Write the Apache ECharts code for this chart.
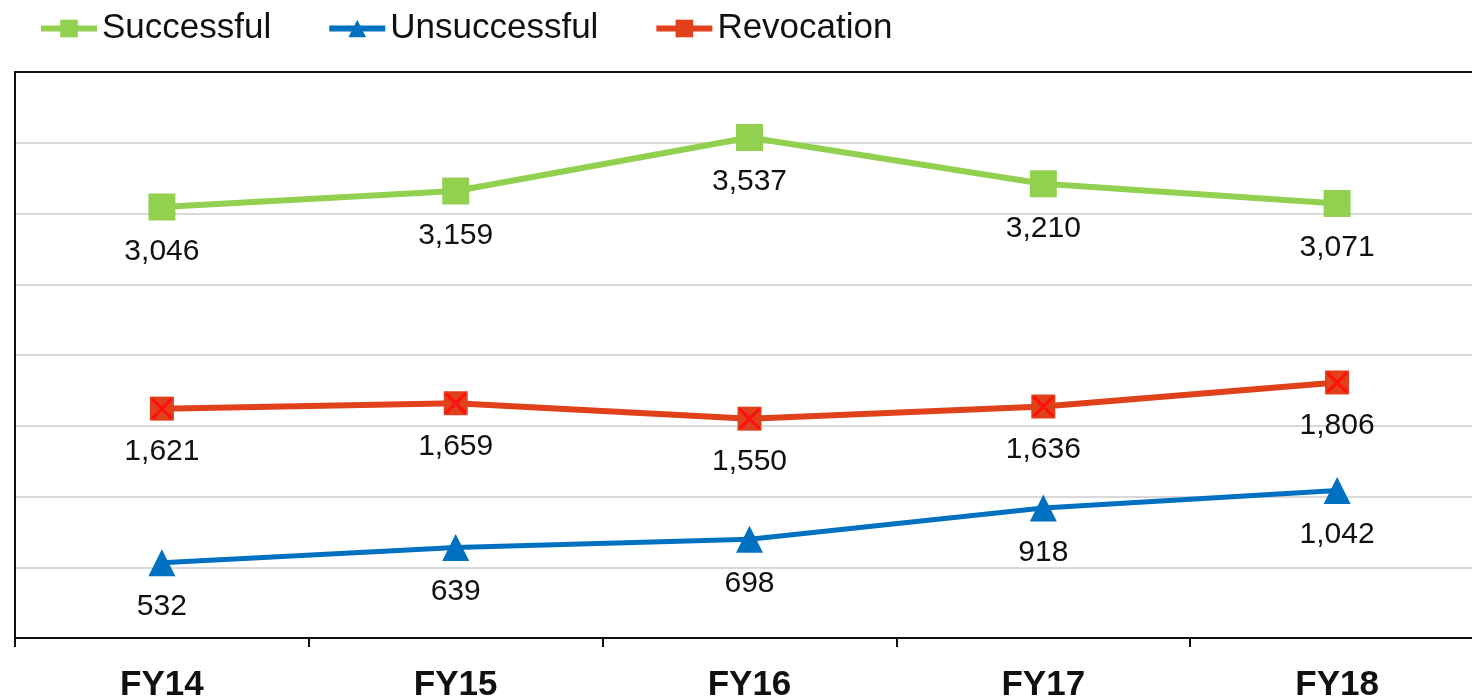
<!DOCTYPE html>
<html>
<head>
<meta charset="utf-8">
<script src="https://cdn.jsdelivr.net/npm/echarts@6/dist/echarts.min.js"></script>
<style>
  html, body { margin: 0; padding: 0; background: #fff; }
  #chart { width: 1472px; height: 700px; }
</style>
</head>
<body>
<div id="chart"></div>
<script>
// data
const years = ['FY14', 'FY15', 'FY16', 'FY17', 'FY18']
const successful = [3046, 3159, 3537, 3210, 3071]
const unsuccessful = [532, 639, 698, 918, 1042]
const revocation = [1621, 1659, 1550, 1636, 1806]

const font = 'Liberation Sans, Arial, sans-serif'
const fmt = p => p.value.toLocaleString('en-US')

// X shape drawn over the revocation squares
const crossPath = 'path://M0,1 L1,0 L5,4 L9,0 L10,1 L6,5 L10,9 L9,10 L5,6 L1,10 L0,9 L4,5 Z'

const chart = echarts.init(document.getElementById('chart'))

const labelStyle = {
  show: true,
  position: 'bottom',
  distance: 16,
  formatter: fmt,
  color: '#111',
  fontSize: 30,
  fontFamily: font
}

chart.setOption({
  animation: false,
  legend: {
    data: ['Successful', 'Unsuccessful', 'Revocation'],
    left: 33,
    top: 6,
    itemWidth: 56,
    itemHeight: 22,
    itemGap: 55,
    lineStyle: { width: 6 },
    textStyle: { fontSize: 35, color: '#111', fontFamily: font }
  },
  grid: {
    left: 15,
    width: 1469,
    top: 72,
    bottom: 62,
    outerBoundsMode: 'none',
    containLabel: false
  },
  xAxis: [
    {
      type: 'category',
      data: years,
      boundaryGap: true,
      axisLine: { lineStyle: { color: '#111', width: 2 } },
      axisTick: { show: true, length: 9, lineStyle: { color: '#111', width: 2 } },
      axisLabel: {
        margin: 30,
        fontSize: 35,
        fontWeight: 'bold',
        color: '#111',
        fontFamily: font
      }
    },
    {
      // top frame line
      type: 'category',
      data: years,
      position: 'top',
      axisLine: { lineStyle: { color: '#111', width: 2 } },
      axisTick: { show: false },
      axisLabel: { show: false }
    }
  ],
  yAxis: {
    type: 'value',
    min: 0,
    max: 4000,
    interval: 500,
    axisLabel: { show: false },
    axisLine: { show: true, lineStyle: { color: '#111', width: 2 } },
    splitLine: { lineStyle: { color: '#d9d9d9', width: 2 } }
  },
  series: [
    {
      name: 'Successful',
      type: 'line',
      data: successful,
      symbol: 'rect',
      symbolSize: 27,
      color: '#92D050',
      lineStyle: { width: 6, color: '#92D050' },
      label: labelStyle
    },
    {
      name: 'Unsuccessful',
      type: 'line',
      data: unsuccessful,
      symbol: 'triangle',
      symbolSize: 27,
      color: '#0070C0',
      lineStyle: { width: 5, color: '#0070C0' },
      label: labelStyle
    },
    {
      name: 'Revocation',
      type: 'line',
      data: revocation,
      symbol: 'rect',
      symbolSize: 24,
      color: '#E0401A',
      lineStyle: { width: 6, color: '#E0401A' },
      label: labelStyle
    },
    {
      name: 'RevocationCross',
      type: 'line',
      data: revocation,
      symbol: crossPath,
      symbolSize: 22,
      color: '#FF1010',
      lineStyle: { width: 0, opacity: 0 },
      silent: true,
      z: 5
    }
  ]
})
</script>
</body>
</html>
